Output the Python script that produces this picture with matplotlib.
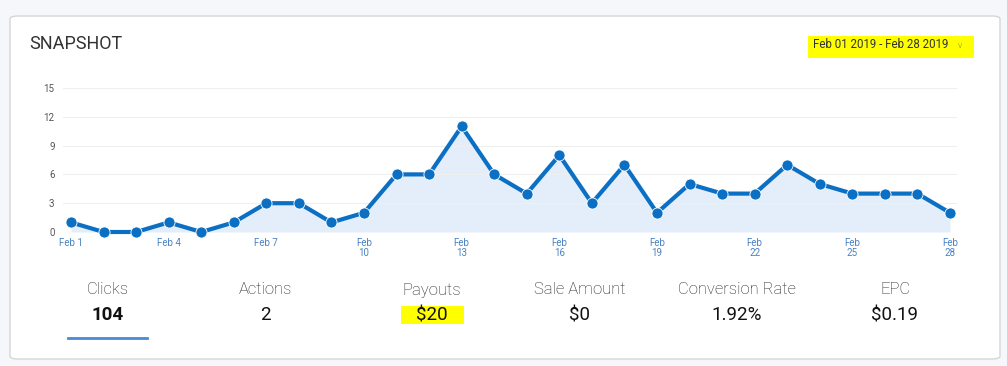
import matplotlib.pyplot as plt
from matplotlib.patches import FancyBboxPatch, Rectangle
import numpy as np

# Daily clicks, Feb 2019
days = list(range(1, 29))
clicks = [1, 0, 0, 1, 0, 1, 3, 3, 1, 2, 6, 6, 11, 6, 4,
          8, 3, 7, 2, 5, 4, 4, 7, 5, 4, 4, 4, 2]
tick_days = [1, 4, 7, 10, 13, 16, 19, 22, 25, 28]
tick_labels = ['Feb 1', 'Feb 4', 'Feb 7', 'Feb\n10', 'Feb\n13', 'Feb\n16',
               'Feb\n19', 'Feb\n22', 'Feb\n25', 'Feb\n28']
y_ticks = [0, 3, 6, 9, 12, 15]

stat_names = ['Clicks', 'Actions', 'Payouts', 'Sale Amount', 'Conversion Rate', 'EPC']
stat_values = ['104', '2', '$20', '$0', '1.92%', '$0.19']
stat_x = [108, 265, 432, 580, 737, 895]

W, H = 1007, 366
fig = plt.figure(figsize=(W / 100, H / 100), dpi=100)
fig.patch.set_facecolor('#f6f7fa')

def fx(px):
    return px / W

def fy(py):
    return 1 - py / H

# card
card = FancyBboxPatch((fx(10), fy(359)), fx(990), 343 / H,
                      boxstyle='round,pad=0,rounding_size=0.008',
                      transform=fig.transFigure, facecolor='white',
                      edgecolor='#d6d6d6', linewidth=1.0, zorder=-5)
fig.patches.append(card)

fig.text(fx(29), fy(44), 'SNAPSHOT', fontsize=13, family='Roboto',
         color='#333333', va='center', ha='left')

# date range with highlight
fig.patches.append(Rectangle((fx(808), fy(58)), fx(166), 22 / H,
                             transform=fig.transFigure, facecolor='#ffff00',
                             edgecolor='none', zorder=-4))
fig.text(fx(813), fy(45), 'Feb 01 2019 - Feb 28 2019', fontsize=8.3,
         family='Roboto', color='#333333', va='center', ha='left')
fig.text(fx(960), fy(45), 'v', fontsize=6.5, family='Roboto', weight='light',
         color='#333333', va='center', ha='center')

# chart
day_px = (950 - 71) / 27
left_px = 71 - 0.25 * day_px
right_px = 950 + 0.2 * day_px
ax = fig.add_axes([fx(left_px), fy(232), fx(right_px - left_px), 144 / H])
ax.set_facecolor('none')
ax.fill_between(days, clicks, 0, color='#e3eefa', linewidth=0, zorder=1)
ax.plot(days, clicks, color='#0b6fc4', linewidth=3, marker='o',
        markersize=8, markeredgecolor='white', markeredgewidth=0.6,
        clip_on=False, zorder=3)
ax.set_xlim(0.75, 28.2)
ax.set_ylim(0, 15)
ax.set_yticks(y_ticks)
ax.set_xticks(tick_days)
ax.set_xticklabels(tick_labels)
ax.grid(axis='y', color='#efefef', linewidth=0.8, zorder=0)
ax.tick_params(axis='y', length=0, pad=6, labelsize=7, labelcolor='#555555')
ax.tick_params(axis='x', length=0, pad=4, labelsize=7, labelcolor='#4a82c4')
for lbl in ax.get_xticklabels() + ax.get_yticklabels():
    lbl.set_family('Roboto')
    lbl.set_linespacing(1.05)
for s in ax.spines.values():
    s.set_visible(False)

# stats row
fig.patches.append(Rectangle((fx(401), fy(324)), fx(63), 18 / H,
                             transform=fig.transFigure, facecolor='#ffff00',
                             edgecolor='none', zorder=-4))
for name, val, x in zip(stat_names, stat_values, stat_x):
    fig.text(fx(x), fy(290), name, fontsize=12, family='Roboto', weight='light',
             color='#222222', ha='center', va='center')
    fig.text(fx(x), fy(315), val, fontsize=13.5, family='Roboto',
             weight='bold' if name == 'Clicks' else 'normal',
             color='#111111', ha='center', va='center')

fig.add_artist(plt.Line2D([fx(68), fx(147)], [fy(338), fy(338)],
                          transform=fig.transFigure, color='#4a88d8', linewidth=2))

fig.savefig('out.png', dpi=100, facecolor=fig.get_facecolor())
